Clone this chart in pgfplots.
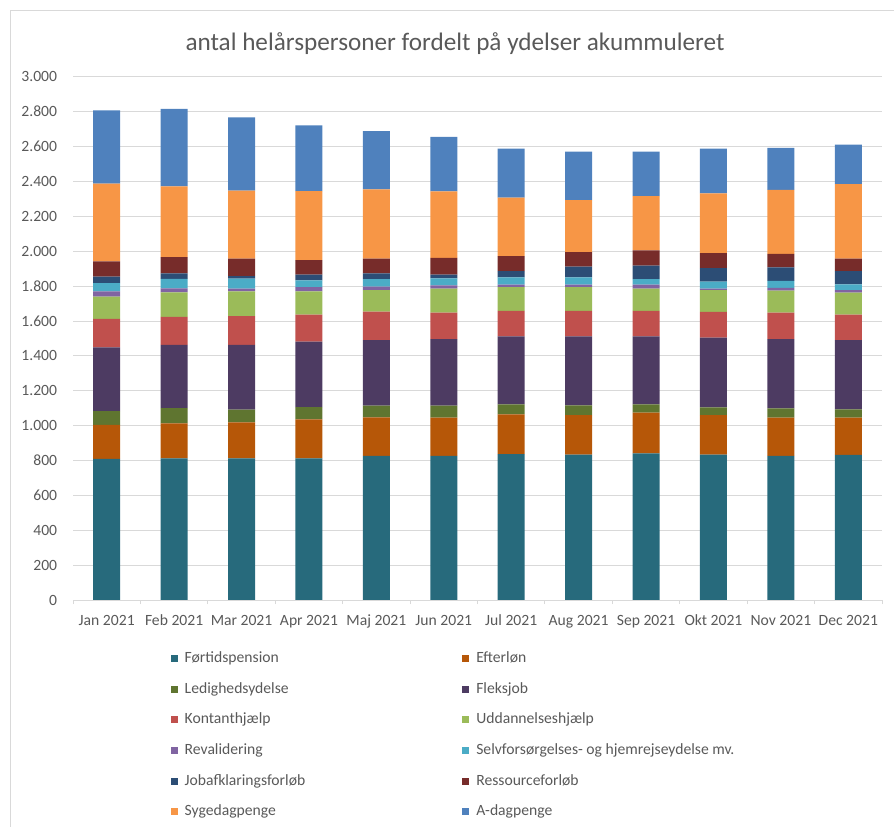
\documentclass[border=0pt]{standalone}
\usepackage{fontspec}
\setmainfont{Carlito}
\usepackage{pgfplots}
\usepackage{pgfplotstable}
\pgfplotsset{compat=1.18}

\definecolor{txt}{HTML}{595959}
\definecolor{lgray}{HTML}{D9D9D9}
\definecolor{cFort}{HTML}{276A7C}
\definecolor{cEft}{HTML}{B65708}
\definecolor{cLed}{HTML}{5F7530}
\definecolor{cFle}{HTML}{4D3B62}
\definecolor{cKon}{HTML}{C0504D}
\definecolor{cUdd}{HTML}{9BBB59}
\definecolor{cRev}{HTML}{8064A2}
\definecolor{cSel}{HTML}{4BACC6}
\definecolor{cJob}{HTML}{2C4D75}
\definecolor{cRes}{HTML}{772C2A}
\definecolor{cSyg}{HTML}{F79646}
\definecolor{cAdp}{HTML}{4F81BD}

% helårspersoner per ydelse, jan-dec 2021
\pgfplotstableread{
m  Fort Eft Led Fle Kon Udd Rev Sel Job Res Syg Adp
1  810  195 78  366 163 128 31  47  37  88  445 420
2  813  200 88  363 160 140 23  55  31  94  405 445
3  813  206 73  372 165 142 15  57  15  100 390 420
4  813  223 70  376 155 134 23  40  32  84  396 377
5  826  222 67  376 163 124 19  44  33  84  398 334
6  826  220 69  382 152 137 19  40  21  96  382 312
7  837  228 57  390 147 136 14  42  36  86  335 281
8  834  227 56  395 147 135 15  42  61  84  298 278
9  841  234 47  390 147 127 23  32  77  88  310 256
10 834  227 44  400 147 126 8   40  78  85  344 256
11 826  220 53  398 152 126 15  40  78  77  367 241
12 832  214 48  396 147 126 15  33  76  71  428 226
}\ydelser

\begin{document}
\begin{tikzpicture}
\path[use as bounding box] (0,0) rectangle (894bp,827bp);
\draw[lgray, line width=1bp] (10bp,0) -- (10bp,816bp) -- (894bp,816bp);
\node[anchor=base, text=txt, font=\fontsize{25.3}{30}\selectfont] at (455bp,776bp)
  {antal helårspersoner fordelt på ydelser akummuleret};

\begin{axis}[
  at={(73bp,227bp)}, anchor=south west,
  scale only axis, width=809bp, height=523bp,
  ybar stacked, bar width=27bp,
  xmin=0.5, xmax=12.5, ymin=0, ymax=3000,
  axis x line=bottom, axis y line=left,
  axis line style={-},
  y axis line style={draw=none},
  x axis line style={draw=lgray, line width=1bp},
  ymajorgrids, grid style={lgray, line width=1bp},
  ytick={0,200,...,3000},
  xtick={1,...,12},
  xticklabels={Jan 2021,Feb 2021,Mar 2021,Apr 2021,Maj 2021,Jun 2021,Jul 2021,Aug 2021,Sep 2021,Okt 2021,Nov 2021,Dec 2021},
  tick align=outside, major tick length=4bp,
  xtick style={draw=none}, ytick style={draw=none},
  extra x ticks={0.5,1.5,...,12.5}, extra x tick labels={},
  extra x tick style={xtick style={draw=lgray, line width=1bp}, grid=none},
  /pgf/number format/assume math mode=true,
  /pgf/number format/1000 sep={.},
  ticklabel style={text=txt, font=\fontsize{15.7}{18}\selectfont, inner sep=0pt},
  xticklabel style={anchor=north, text height=11bp, text depth=3bp, yshift=-10bp},
  yticklabel style={anchor=east, text height=10bp, text depth=0bp, xshift=-11.7bp},
  legend columns=2,
  legend cell align=left,
  legend image code/.code={\fill[#1] (0bp,-3.5bp) rectangle (7bp,3.5bp);},
  legend style={at={(0.1208,-0.099)}, anchor=north west, draw=none, fill=none,
    inner sep=0pt, outer sep=0pt, row sep=16.6bp,
    font=\fontsize{15.7}{18}\selectfont, text=txt,
    nodes={inner sep=0pt, text height=11bp, text depth=3bp},
    /tikz/every odd column/.append style={column sep=7bp},
    /tikz/every even column/.append style={column sep=157bp}},
]
\addplot[fill=cFort, draw=none] table[x=m, y=Fort] {\ydelser};
\addplot[fill=cEft,  draw=none] table[x=m, y=Eft]  {\ydelser};
\addplot[fill=cLed,  draw=none] table[x=m, y=Led]  {\ydelser};
\addplot[fill=cFle,  draw=none] table[x=m, y=Fle]  {\ydelser};
\addplot[fill=cKon,  draw=none] table[x=m, y=Kon]  {\ydelser};
\addplot[fill=cUdd,  draw=none] table[x=m, y=Udd]  {\ydelser};
\addplot[fill=cRev,  draw=none] table[x=m, y=Rev]  {\ydelser};
\addplot[fill=cSel,  draw=none] table[x=m, y=Sel]  {\ydelser};
\addplot[fill=cJob,  draw=none] table[x=m, y=Job]  {\ydelser};
\addplot[fill=cRes,  draw=none] table[x=m, y=Res]  {\ydelser};
\addplot[fill=cSyg,  draw=none] table[x=m, y=Syg]  {\ydelser};
\addplot[fill=cAdp,  draw=none] table[x=m, y=Adp]  {\ydelser};
\legend{Førtidspension, Efterløn, Ledighedsydelse, Fleksjob, Kontanthjælp, Uddannelseshjælp,
  Revalidering, Selvforsørgelses- og hjemrejseydelse mv., Jobafklaringsforløb, Ressourceforløb,
  Sygedagpenge, A-dagpenge}
\end{axis}
\end{tikzpicture}
\end{document}
